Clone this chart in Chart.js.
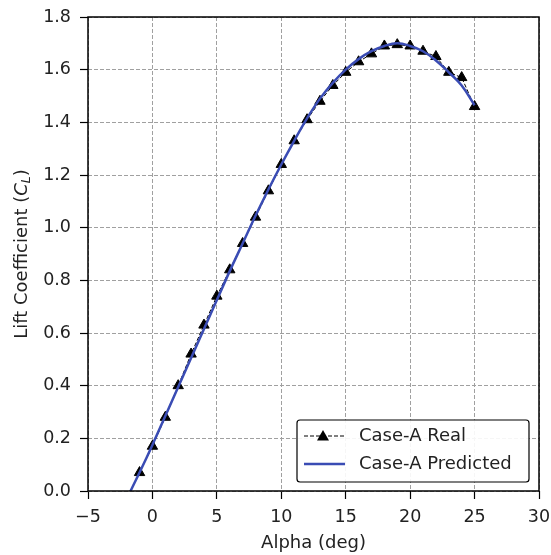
<!DOCTYPE html>
<html>
<head>
<meta charset="utf-8">
<script src="https://cdn.jsdelivr.net/npm/chart.js@4/dist/chart.umd.min.js"></script>
<style>
  html, body { margin: 0; background: #fff; }
  #wrap { width: 551px; height: 555px; }
</style>
</head>
<body>
<div id="wrap"><canvas id="chart"></canvas></div>
<script>
// values
const alphaReal = [-1, 0, 1, 2, 3, 4, 5, 6, 7, 8, 9, 10, 11, 12, 13, 14, 15, 16, 17, 18, 19, 20, 21, 22, 23, 24, 25];
const clReal = [0.07, 0.17, 0.28, 0.40, 0.52, 0.63, 0.74, 0.84, 0.94, 1.04, 1.14, 1.24, 1.33, 1.41, 1.48, 1.54, 1.59, 1.63, 1.66, 1.69, 1.695, 1.69, 1.67, 1.65, 1.59, 1.57, 1.46];

const alphaPred = [-2, -1, 0, 1, 2, 3, 4, 5, 6, 7, 8, 9, 10, 11, 12, 13, 14, 15, 16, 17, 18, 19, 20, 21, 22, 23, 24, 25];
const clPred = [-0.03, 0.07, 0.175, 0.285, 0.395, 0.505, 0.615, 0.725, 0.835, 0.94, 1.045, 1.145, 1.24, 1.33, 1.415, 1.49, 1.55, 1.60, 1.64, 1.67, 1.69, 1.70, 1.69, 1.67, 1.635, 1.59, 1.54, 1.465];

const seriesLabels = ['Case-A Real', 'Case-A Predicted'];
const xTitle = 'Alpha (deg)';

const FONT = 'DejaVu Sans';
const BLUE = '#3a4cb4';

// box round the plot, like matplotlib spines
const frame = {
  id: 'frame',
  afterDraw(chart) {
    const { ctx, chartArea: a } = chart;
    ctx.save();
    ctx.strokeStyle = '#000';
    ctx.lineWidth = 1.5;
    ctx.strokeRect(a.left, a.top, a.right - a.left, a.bottom - a.top);
    ctx.restore();
  }
};

// y title with italic C and subscript L
const yTitle = {
  id: 'yTitle',
  afterDraw(chart) {
    const { ctx, chartArea: a } = chart;
    const parts = [
      { t: 'Lift Coefficient (', f: `18px "${FONT}"`, dy: 0 },
      { t: 'C', f: `italic 18px "${FONT}"`, dy: 0 },
      { t: 'L', f: `italic 12.5px "${FONT}"`, dy: 4.5 },
      { t: ')', f: `18px "${FONT}"`, dy: 0 }
    ];
    ctx.save();
    let total = 0;
    parts.forEach(p => { ctx.font = p.f; p.w = ctx.measureText(p.t).width; total += p.w; });
    ctx.translate(22, (a.top + a.bottom) / 2);
    ctx.rotate(-Math.PI / 2);
    ctx.fillStyle = '#222';
    ctx.textBaseline = 'middle';
    let x = -total / 2;
    parts.forEach(p => { ctx.font = p.f; ctx.fillText(p.t, x, p.dy); x += p.w; });
    ctx.restore();
  }
};

// legend box in the lower right corner
const legendBox = {
  id: 'legendBox',
  afterDraw(chart) {
    const { ctx } = chart;
    const x0 = 297, y0 = 420, w = 232, h = 62;
    ctx.save();
    ctx.beginPath();
    ctx.roundRect(x0, y0, w, h, 3);
    ctx.fillStyle = 'rgba(255,255,255,0.9)';
    ctx.fill();
    ctx.strokeStyle = '#000';
    ctx.lineWidth = 1.2;
    ctx.stroke();

    const rows = [y0 + 16, y0 + 44];
    // real: dashed line with triangle
    ctx.strokeStyle = '#000';
    ctx.lineWidth = 1;
    ctx.setLineDash([4, 2]);
    ctx.beginPath();
    ctx.moveTo(x0 + 7, rows[0]);
    ctx.lineTo(x0 + 48, rows[0]);
    ctx.stroke();
    ctx.setLineDash([]);
    ctx.fillStyle = '#000';
    const cx = x0 + 26, cy = rows[0];
    ctx.beginPath();
    ctx.moveTo(cx, cy - 6);
    ctx.lineTo(cx + 6, cy + 4.5);
    ctx.lineTo(cx - 6, cy + 4.5);
    ctx.closePath();
    ctx.fill();
    // predicted: blue solid
    ctx.strokeStyle = BLUE;
    ctx.lineWidth = 2.5;
    ctx.beginPath();
    ctx.moveTo(x0 + 7, rows[1]);
    ctx.lineTo(x0 + 48, rows[1]);
    ctx.stroke();

    ctx.fillStyle = '#222';
    ctx.font = `18px "${FONT}"`;
    ctx.textBaseline = 'middle';
    ctx.fillText(seriesLabels[0], x0 + 62, rows[0]);
    ctx.fillText(seriesLabels[1], x0 + 62, rows[1]);
    ctx.restore();
  }
};

const gridOpts = {
  color: '#a0a0a0',
  tickLength: 8,
  tickColor: '#000',
  tickWidth: 1.2,
  tickBorderDash: []
};

new Chart(document.getElementById('chart'), {
  type: 'line',
  data: {
    datasets: [
      {
        label: seriesLabels[0],
        data: alphaReal.map((a, i) => ({ x: a, y: clReal[i] })),
        borderColor: '#000',
        borderWidth: 1,
        borderDash: [4, 2],
        pointStyle: 'triangle',
        pointRadius: 6,
        pointBackgroundColor: '#000',
        pointBorderColor: '#000',
        tension: 0,
        order: 2
      },
      {
        label: seriesLabels[1],
        data: alphaPred.map((a, i) => ({ x: a, y: clPred[i] })),
        borderColor: BLUE,
        borderWidth: 2.5,
        pointRadius: 0,
        tension: 0.4,
        order: 1
      }
    ]
  },
  options: {
    responsive: true,
    maintainAspectRatio: false,
    animation: false,
    layout: { padding: { top: 17, right: 12, left: 0, bottom: 0 } },
    plugins: { legend: { display: false }, tooltip: { enabled: false } },
    scales: {
      x: {
        type: 'linear',
        min: -5,
        max: 30,
        afterFit(s) { s.height = 64; s.paddingRight = 0; s.paddingLeft = 0; },
        ticks: {
          stepSize: 5,
          color: '#222',
          font: { family: FONT, size: 17.5 },
          padding: 8,
          maxRotation: 0,
          callback: v => v < 0 ? '\u2212' + Math.abs(v) : String(v)
        },
        grid: gridOpts,
        border: { display: false, dash: [4, 2] },
        title: {
          display: true,
          text: xTitle,
          color: '#222',
          font: { family: FONT, size: 18 },
          padding: { top: 0, bottom: 1 }
        }
      },
      y: {
        min: 0,
        max: 1.8,
        afterFit(s) { s.width = 88; s.paddingTop = 0; s.paddingBottom = 0; },
        ticks: {
          stepSize: 0.2,
          color: '#222',
          font: { family: FONT, size: 17.5 },
          padding: 9,
          callback: v => v.toFixed(1)
        },
        grid: gridOpts,
        border: { display: false, dash: [4, 2] }
      }
    }
  },
  plugins: [frame, yTitle, legendBox]
});
</script>
</body>
</html>
